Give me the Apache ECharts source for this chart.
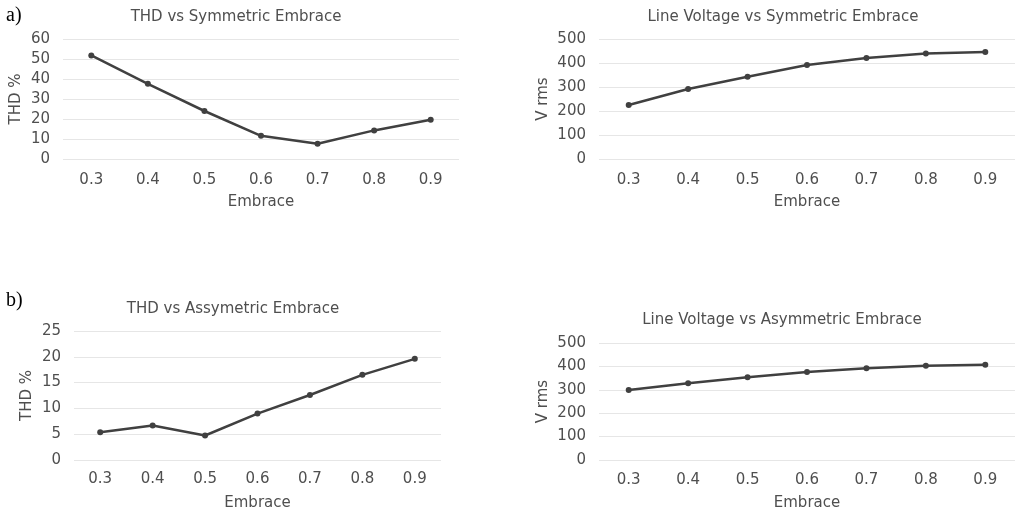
<!DOCTYPE html>
<html>
<head>
<meta charset="utf-8">
<title>Embrace charts</title>
<script src="https://cdn.jsdelivr.net/npm/echarts@6/dist/echarts.min.js"></script>
<style>
    html, body {margin: 0; padding: 0; background: #fff;}
    #main {width: 1015px; height: 516px;}
</style>
</head>
<body>
<div id="main"></div>
<script>
var embrace = ['0.3', '0.4', '0.5', '0.6', '0.7', '0.8', '0.9'];
var thdSym = [51.8, 37.6, 24, 11.6, 7.6, 14.3, 19.6];
var voltSym = [225, 292, 343, 392, 421, 440, 446];
var thdAsym = [5.4, 6.7, 4.75, 9.0, 12.6, 16.5, 19.6];
var voltAsym = [299, 328, 354, 376, 392, 403, 407];

var grey = '#4f4f4f';
var font = 'DejaVu Sans';

var myChart = echarts.init(document.getElementById('main'));

// one grid per small chart
var grids = [
    {left: 63, top: 39, width: 396, height: 120},
    {left: 599, top: 39, width: 426, height: 120},
    {left: 74, top: 331, width: 367, height: 129},
    {left: 599, top: 343, width: 426, height: 117}
];
var yMax = [60, 500, 25, 500];
var yStep = [10, 100, 5, 100];
var yName = ['THD %', 'V rms', 'THD %', 'V rms'];
var yGap = [39, 48, 39, 48];
var xMargin = [14, 14, 12, 13];
var allData = [thdSym, voltSym, thdAsym, voltAsym];

var xAxes = [], yAxes = [], series = [];
for (var i = 0; i < 4; i++) {
    xAxes.push({
        gridIndex: i,
        type: 'category',
        data: embrace,
        name: 'Embrace',
        nameLocation: 'middle',
        nameGap: 36,
        nameTextStyle: {color: grey, fontSize: 15, fontFamily: font},
        axisLine: {show: false},
        axisTick: {show: false},
        axisLabel: {color: grey, fontSize: 15, fontFamily: font, margin: xMargin[i]}
    });
    yAxes.push({
        gridIndex: i,
        type: 'value',
        min: 0,
        max: yMax[i],
        interval: yStep[i],
        name: yName[i],
        nameLocation: 'middle',
        nameGap: yGap[i],
        nameTextStyle: {color: grey, fontSize: 15, fontFamily: font},
        axisLine: {show: false},
        axisTick: {show: false},
        axisLabel: {color: grey, fontSize: 15, fontFamily: font, margin: 13},
        splitLine: {lineStyle: {color: '#e6e6e6', width: 1}}
    });
    series.push({
        type: 'line',
        xAxisIndex: i,
        yAxisIndex: i,
        data: allData[i],
        symbol: 'circle',
        symbolSize: 6,
        itemStyle: {color: '#404040'},
        lineStyle: {color: '#404040', width: 2.5}
    });
}

var titleStyle = {color: grey, fontSize: 15, fontWeight: 'normal', fontFamily: font};
var labelStyle = {color: '#000', fontSize: 20, fontWeight: 'normal', fontFamily: 'Liberation Serif'};

option = {
    animation: false,
    title: [
        {text: 'THD vs Symmetric Embrace', left: 231, top: 5, textAlign: 'center', textStyle: titleStyle},
        {text: 'Line Voltage vs Symmetric Embrace', left: 778, top: 5, textAlign: 'center', textStyle: titleStyle},
        {text: 'THD vs Assymetric Embrace', left: 228, top: 297, textAlign: 'center', textStyle: titleStyle},
        {text: 'Line Voltage vs Asymmetric Embrace', left: 777, top: 308, textAlign: 'center', textStyle: titleStyle},
        {text: 'a)', left: 6, top: 6, padding: 0, textStyle: labelStyle},
        {text: 'b)', left: 6, top: 291, padding: 0, textStyle: labelStyle}
    ],
    grid: grids,
    xAxis: xAxes,
    yAxis: yAxes,
    series: series
};

myChart.setOption(option);
</script>
</body>
</html>
